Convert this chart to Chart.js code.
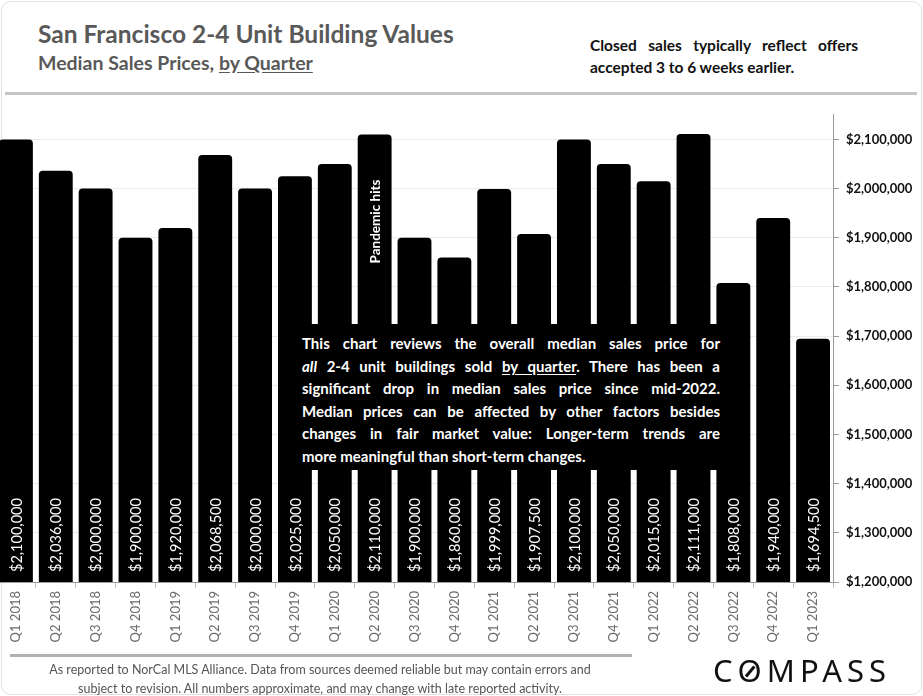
<!DOCTYPE html>
<html>
<head>
<meta charset="utf-8">
<script src="https://cdn.jsdelivr.net/npm/chart.js@4.4.1/dist/chart.umd.min.js"></script>
<style>
  html, body { margin: 0; padding: 0; background: #fff; }
  body { width: 923px; height: 696px; position: relative; overflow: hidden; font-family: 'Lato', sans-serif; }
  .frame { position: absolute; left: 1px; top: 1px; right: 1px; bottom: 1px; border: 1px solid #e2e2e2; border-radius: 10px; }
  .title { position: absolute; left: 38px; top: 19px; font-size: 24.5px; font-weight: 700; color: #595959; white-space: nowrap; }
  .subtitle { position: absolute; left: 38px; top: 51px; font-size: 19.5px; font-weight: 700; color: #595959; white-space: nowrap; }
  .subtitle u { text-underline-offset: 2px; }
  .note { position: absolute; left: 590px; top: 34px; width: 268px; font-size: 15.5px; font-weight: 700; color: #111; line-height: 22px; }
  .note div, .box div { white-space: nowrap; }
  .just { text-align: justify; text-align-last: justify; }
  .sep { position: absolute; left: 5px; top: 92px; width: 912px; height: 3px; background: #c4c4c4; }
  #wrap { position: absolute; left: -4px; top: 100px; width: 927px; height: 560px; }
  .box { position: absolute; left: 292px; top: 324px; width: 434px; height: 146px; background: #000; color: #fff;
         font-size: 15px; font-weight: 700; line-height: 22.5px; box-sizing: border-box; padding: 8px 6px 0 10px; }
  .box u { text-underline-offset: 2px; }
  .fline { position: absolute; left: 10px; top: 654px; width: 622px; height: 3px; background: #b0b0b0; }
  .foot { position: absolute; left: 0px; top: 660px; width: 640px; text-align: center; font-size: 12.5px; color: #555; line-height: 19px; }
  .logo { position: absolute; left: 713px; top: 649px; font-family: 'Noto Sans', sans-serif; font-size: 31px; letter-spacing: 5px; color: #111; font-weight: 400; }
  .logo .o { position: relative; display: inline-block; }
  .logo .o::after { content: ''; position: absolute; left: 50%; top: 50%; width: 2.5px; height: 13px; background: #111;
         transform: translate(-50%, -40%) rotate(40deg); margin-left: -2.5px; }
</style>
</head>
<body>
<div class="frame"></div>
<div class="title">San Francisco 2-4 Unit Building Values</div>
<div class="subtitle">Median Sales Prices, <u>by Quarter</u></div>
<div class="note">
  <div class="just">Closed sales typically reflect offers</div>
  <div>accepted 3 to 6 weeks earlier.</div>
</div>
<div class="sep"></div>

<div id="wrap"><canvas id="priceChart"></canvas></div>

<div class="box">
  <div class="just">This chart reviews the overall median sales price for</div>
  <div class="just"><i>all</i> 2-4 unit buildings sold <u>by quarter</u>. There has been a</div>
  <div class="just">significant drop in median sales price since mid-2022.</div>
  <div class="just">Median prices can be affected by other factors besides</div>
  <div class="just">changes in fair market value: Longer-term trends are</div>
  <div>more meaningful than short-term changes.</div>
</div>

<div class="fline"></div>
<div class="foot">As reported to NorCal MLS Alliance. Data from sources deemed reliable but may contain errors and<br>subject to revision. All numbers approximate, and may change with late reported activity.</div>
<div class="logo">C<span class="o">O</span>MPASS</div>

<script>
// data
const quarters = [
    'Q1 2018', 'Q2 2018', 'Q3 2018', 'Q4 2018',
    'Q1 2019', 'Q2 2019', 'Q3 2019', 'Q4 2019',
    'Q1 2020', 'Q2 2020', 'Q3 2020', 'Q4 2020',
    'Q1 2021', 'Q2 2021', 'Q3 2021', 'Q4 2021',
    'Q1 2022', 'Q2 2022', 'Q3 2022', 'Q4 2022',
    'Q1 2023'
];
const medianPrices = [
    2100000, 2036000, 2000000, 1900000,
    1920000, 2068500, 2000000, 2025000,
    2050000, 2110000, 1900000, 1860000,
    1999000, 1907500, 2100000, 2050000,
    2015000, 2111000, 1808000, 1940000,
    1694500
];
const yTicks = [
    1200000, 1300000, 1400000, 1500000, 1600000,
    1700000, 1800000, 1900000, 2000000, 2100000
];
const yMin = 1200000;
const yMax = 2150000;
const noteQuarter = 'Q2 2020';
const noteText = 'Pandemic hits';

const money = v => '$' + v.toLocaleString('en-US');

Chart.defaults.font.family = 'Lato';

// value labels at the foot of each bar + the pandemic note
const barLabels = {
    id: 'barLabels',
    afterDatasetsDraw(chart) {
        const ctx = chart.ctx;
        const meta = chart.getDatasetMeta(0);
        const baseY = chart.scales.y.getPixelForValue(yMin);
        ctx.save();
        ctx.fillStyle = '#fff';
        meta.data.forEach((bar, i) => {
            ctx.save();
            ctx.translate(bar.x, baseY - 10);
            ctx.rotate(-Math.PI / 2);
            ctx.font = '14.5px Lato';
            ctx.textAlign = 'left';
            ctx.textBaseline = 'middle';
            ctx.fillText(money(medianPrices[i]), 0, 1);
            ctx.restore();
        });
        const idx = quarters.indexOf(noteQuarter);
        const nb = meta.data[idx];
        ctx.translate(nb.x, nb.y + 45);
        ctx.rotate(-Math.PI / 2);
        ctx.font = 'bold 13.5px Lato';
        ctx.textAlign = 'right';
        ctx.textBaseline = 'middle';
        ctx.fillText(noteText, 0, 1);
        ctx.restore();
    }
};

new Chart(document.getElementById('priceChart').getContext('2d'), {
    type: 'bar',
    data: {
        labels: quarters,
        datasets: [{
            data: medianPrices,
            backgroundColor: '#000',
            borderRadius: { topLeft: 4, topRight: 4 },
            borderSkipped: 'bottom',
            barPercentage: 0.85,
            categoryPercentage: 1
        }]
    },
    options: {
        responsive: true,
        maintainAspectRatio: false,
        animation: false,
        layout: { padding: { top: 12, left: 0, right: 0, bottom: 0 } },
        plugins: {
            legend: { display: false },
            tooltip: { enabled: false }
        },
        scales: {
            x: {
                grid: {
                    display: true,
                    drawOnChartArea: false,
                    drawTicks: true,
                    tickLength: 6,
                    color: '#bdbdbd'
                },
                border: { color: '#9a9a9a' },
                ticks: {
                    color: '#6b6b6b',
                    font: { size: 13 },
                    minRotation: 90,
                    maxRotation: 90,
                    autoSkip: false,
                    padding: 3
                },
                afterFit(scale) { scale.height = 78; }
            },
            y: {
                position: 'right',
                min: yMin,
                max: yMax,
                grid: {
                    color: '#ebebeb',
                    tickColor: '#9a9a9a',
                    tickLength: 6
                },
                border: { color: '#9a9a9a' },
                ticks: {
                    color: '#111',
                    font: { size: 13, weight: 'bold' },
                    padding: 7,
                    callback: v => money(v)
                },
                afterBuildTicks(scale) { scale.ticks = yTicks.map(v => ({ value: v })); },
                afterFit(scale) { scale.width = 90; }
            }
        }
    },
    plugins: [barLabels]
});
</script>
</body>
</html>
